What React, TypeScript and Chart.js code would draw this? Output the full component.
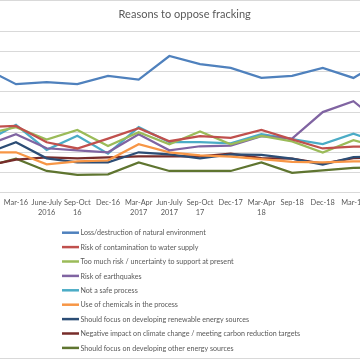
import React, { useEffect, useRef } from "react";
import { Chart, registerables } from "chart.js";

Chart.register(...registerables);

const categories: (string | string[])[] = [
  "Dec-15",
  "Mar-16",
  ["June-July", "2016"],
  ["Sep-Oct", "16"],
  "Dec-16",
  ["Mar-Apr", "2017"],
  ["Jun-July", "2017"],
  ["Sep-Oct", "17"],
  "Dec-17",
  ["Mar-Apr", "18"],
  "Sep-18",
  "Dec-18",
  "Mar-19",
  "Jun-19",
];

const seriesNames = [
  "Loss/destruction of natural environment",
  "Risk of contamination to water supply",
  "Too much risk / uncertainty to support at present",
  "Risk of earthquakes",
  "Not a safe process",
  "Use of chemicals in the process",
  "Should focus on developing renewable energy sources",
  "Negative impact on climate change / meeting carbon reduction targets",
  "Should focus on developing other energy sources",
];

const seriesColors = [
  "#4F81BD",
  "#C0504D",
  "#9BBB59",
  "#8064A2",
  "#4BACC6",
  "#F79646",
  "#2C4D75",
  "#772C2A",
  "#5F7530",
];

const lossEnvironment = [61.7, 53.9, 54.9, 53.9, 58.0, 56.2, 67.9, 63.9, 62.0, 57.0, 58.0, 62.0, 57.0, 66.0];
const waterContamination = [32.5, 33.1, 25.0, 21.9, 26.8, 32.0, 25.5, 28.0, 27.2, 31.1, 26.4, 21.9, 22.8, 22.8];
const tooMuchRisk = [29.0, 32.5, 26.3, 31.1, 23.1, 30.0, 24.0, 30.3, 24.0, 28.2, 25.4, 19.9, 26.0, 22.0];
const earthquakes = [23.3, 29.0, 22.0, 21.0, 20.0, 29.0, 21.0, 23.0, 23.3, 28.0, 26.8, 40.0, 45.4, 33.0];
const notSafe = [25.2, 33.6, 21.2, 28.2, 19.3, 32.5, 25.0, 25.0, 24.4, 29.0, 26.5, 24.1, 29.2, 24.0];
const chemicals = [20.0, 20.0, 14.0, 15.5, 16.0, 24.0, 20.0, 18.5, 17.9, 16.6, 15.2, 15.0, 15.5, 15.5];
const renewables = [19.3, 25.0, 17.0, 15.0, 15.0, 20.0, 19.0, 17.0, 19.0, 18.7, 16.8, 13.9, 17.6, 18.0];
const climateChange = [13.2, 16.3, 17.5, 17.0, 17.5, 18.0, 18.0, 18.0, 19.3, 17.1, 16.8, 14.4, 17.1, 17.5];
const otherEnergy = [12.8, 16.8, 10.7, 8.8, 9.0, 15.0, 10.7, 10.7, 10.7, 15.0, 9.8, 11.0, 12.3, 12.5];

const seriesValues = [
  lossEnvironment,
  waterContamination,
  tooMuchRisk,
  earthquakes,
  notSafe,
  chemicals,
  renewables,
  climateChange,
  otherEnergy,
];

const yMin = 0;
const yMax = 80;
const yStep = 10;

const EXTRA = 40; // canvas extends beyond the 360px view on each side
const VIEW = 360;
const CANVAS_W = VIEW + 2 * EXTRA;
const CANVAS_H = 360;
const TEXT_COLOR = "#595959";
const FONT = "Lato, 'Liberation Sans', sans-serif";
const LEGEND_TEXT_WIDTH = 220; // width of the longest legend entry

const legendPlugin = {
  id: "stackedLegend",
  beforeDraw(chart: any) {
    const { ctx, width, height } = chart;
    ctx.save();
    ctx.fillStyle = "#ffffff";
    ctx.fillRect(0, 0, width, height);
    ctx.strokeStyle = "#d9d9d9";
    ctx.lineWidth = 1;
    ctx.beginPath();
    ctx.moveTo(0, 0.5);
    ctx.lineTo(width, 0.5);
    ctx.moveTo(0, height - 1.5);
    ctx.lineTo(width, height - 1.5);
    ctx.stroke();
    ctx.restore();
  },
  afterDraw(chart: any) {
    const { ctx } = chart;
    const x0 = EXTRA + 62;
    const top = 232.7;
    const gap = 14.4;
    ctx.save();
    const labels: string[] = chart.data.datasets.map((d: any) => d.label);
    ctx.font = `10px ${FONT}`;
    const longest = Math.max(...labels.map((l) => ctx.measureText(l).width));
    let size = (10 * LEGEND_TEXT_WIDTH) / longest;
    size = Math.max(6.5, Math.min(9, size));
    ctx.font = `${size.toFixed(2)}px ${FONT}`;
    ctx.textBaseline = "middle";
    ctx.textAlign = "left";
    chart.data.datasets.forEach((ds: any, i: number) => {
      const y = top + i * gap;
      ctx.strokeStyle = ds.borderColor;
      ctx.lineWidth = 2.5;
      ctx.beginPath();
      ctx.moveTo(x0, y);
      ctx.lineTo(x0 + 17, y);
      ctx.stroke();
      ctx.fillStyle = TEXT_COLOR;
      ctx.fillText(ds.label, x0 + 18.5, y + 0.5);
    });
    ctx.restore();
  },
};

export default function App() {
  const canvasRef = useRef<HTMLCanvasElement | null>(null);

  useEffect(() => {
    const canvas = canvasRef.current;
    if (!canvas) return;
    const chart = new Chart(canvas, {
      type: "line",
      data: {
        labels: categories as any,
        datasets: seriesNames.map((name, i) => ({
          label: name,
          data: seriesValues[i],
          borderColor: seriesColors[i],
          backgroundColor: seriesColors[i],
          borderWidth: 2.25,
          pointRadius: 0,
          pointHoverRadius: 0,
          tension: 0,
          fill: false,
        })),
      },
      options: {
        responsive: false,
        animation: false,
        devicePixelRatio: 1,
        events: [],
        layout: {
          padding: { top: 0, left: EXTRA - 14.7, right: EXTRA - 24.1, bottom: 137.8 },
        },
        plugins: {
          legend: { display: false },
          tooltip: { enabled: false },
          title: {
            display: true,
            text: "Reasons to oppose fracking",
            color: TEXT_COLOR,
            font: { family: FONT, size: 11, weight: "normal", lineHeight: 1.2 },
            padding: { top: 7.9, bottom: 10.6 },
          },
        },
        scales: {
          x: {
            type: "category",
            offset: false,
            grid: { display: false, drawTicks: false },
            border: { display: false },
            ticks: {
              color: TEXT_COLOR,
              font: { family: FONT, size: 7.4, lineHeight: 1.4 },
              autoSkip: false,
              maxRotation: 0,
              minRotation: 0,
              padding: 4.5,
            },
          },
          y: {
            min: yMin,
            max: yMax,
            grid: { color: "#d9d9d9", drawTicks: false, lineWidth: 1 },
            border: { display: false },
            ticks: { display: false, stepSize: yStep },
          },
        },
      },
      plugins: [legendPlugin],
    });
    return () => chart.destroy();
  }, []);

  return (
    <div
      style={{
        position: "fixed",
        left: 0,
        top: 0,
        width: VIEW,
        height: CANVAS_H,
        overflow: "hidden",
        background: "#ffffff",
      }}
    >
      <canvas
        ref={canvasRef}
        width={CANVAS_W}
        height={CANVAS_H}
        style={{ position: "absolute", left: -EXTRA, top: 0, width: CANVAS_W, height: CANVAS_H }}
      />
    </div>
  );
}
